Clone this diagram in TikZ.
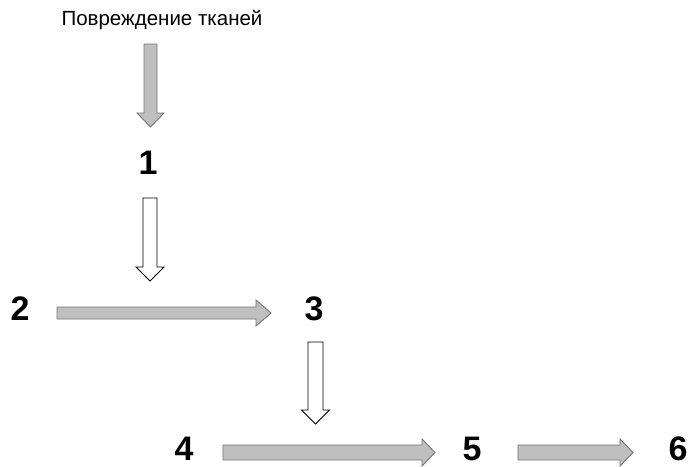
\documentclass[tikz,border=0pt]{standalone}
\usepackage{fontspec}
\setmainfont{Liberation Sans}
\begin{document}
\begin{tikzpicture}[x=1pt,y=-1pt,
  grayarr/.style={fill=black!25,draw=black!55,line width=0.9pt,line join=miter},
  whitearr/.style={fill=white,draw=black,line width=0.9pt,line join=miter},
  numlbl/.style={font=\fontsize{34}{38}\selectfont\bfseries,inner sep=0pt,anchor=center},
  botlbl/.style={numlbl,anchor=base},
  toplbl/.style={font=\fontsize{20.5}{23}\selectfont,inner sep=0pt,anchor=center}]
\useasboundingbox (0,0) rectangle (688,466);
% labels
\node[toplbl] (t) at (162,20) {Повреждение тканей};
\node[numlbl] (n1) at (148,163) {1};
\node[numlbl] (n2) at (20,309) {2};
\node[numlbl] (n3) at (314,309) {3};
\node[botlbl] (n4) at (184,460) {4};
\node[botlbl] (n5) at (472,460) {5};
\node[botlbl] (n6) at (678,460) {6};
% arrows: style, centre, start, head start, tip, shaft half width, head half width
\newcommand\downarr[7]{\draw[#1] (#2-#6,#3) -- (#2+#6,#3) -- (#2+#6,#4) -- (#2+#7,#4) -- (#2,#5) -- (#2-#7,#4) -- (#2-#6,#4) -- cycle;}
\newcommand\rightarr[7]{\draw[#1] (#3,#2-#6) -- (#4,#2-#6) -- (#4,#2-#7) -- (#5,#2) -- (#4,#2+#7) -- (#4,#2+#6) -- (#3,#2+#6) -- cycle;}
\downarr{grayarr}{150.5}{44}{113}{127}{6.5}{13.5}
\downarr{whitearr}{150}{198}{267}{281}{7}{14}
\rightarr{grayarr}{313}{57}{256}{271}{6}{13}
\downarr{whitearr}{315.5}{342}{410}{424}{7.5}{14}
\rightarr{grayarr}{452.5}{223}{422}{435}{7.5}{13.5}
\rightarr{grayarr}{452.5}{518}{620}{633}{7.5}{13.5}
\end{tikzpicture}
\end{document}
